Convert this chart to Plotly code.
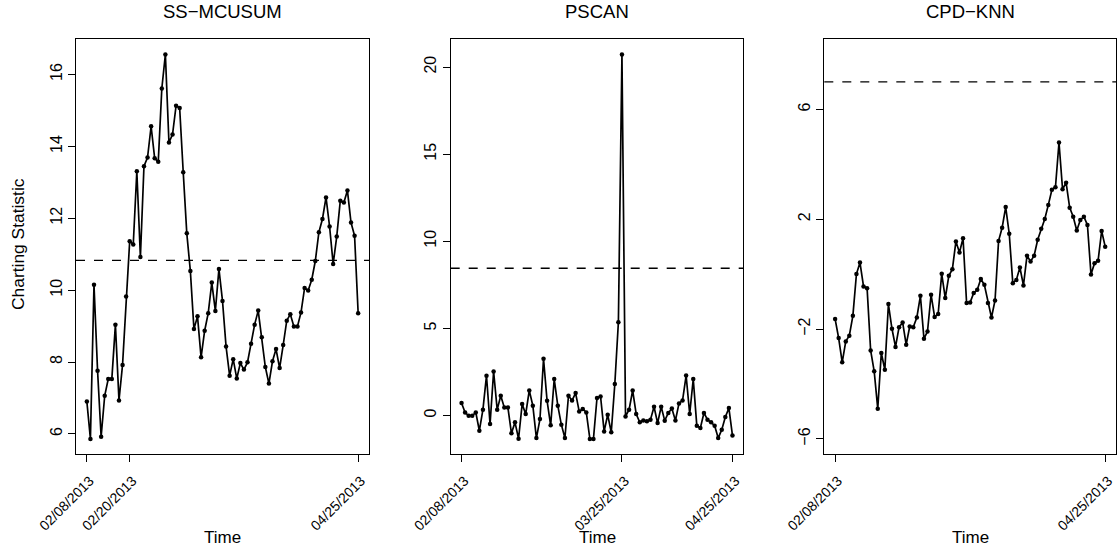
import pandas as pd
import plotly.graph_objects as go

start_date = "2013-02-08"
n_days = 77

ss_mcusum = [6.90, 5.86, 10.15, 7.76, 5.92, 7.06, 7.53, 7.53, 9.04, 6.93,
             7.92, 9.82, 11.36, 11.27, 13.31, 10.92, 13.45, 13.69, 14.56, 13.67,
             13.57, 15.61, 16.56, 14.11, 14.33, 15.13, 15.07, 13.28, 11.58, 10.53,
             8.92, 9.27, 8.13, 8.87, 9.36, 10.21, 9.42, 10.59, 9.70, 8.43,
             7.62, 8.08, 7.54, 7.97, 7.79, 7.99, 8.51, 9.04, 9.43, 8.69,
             7.86, 7.40, 8.02, 8.36, 7.83, 8.47, 9.15, 9.33, 8.99, 8.99,
             9.38, 10.06, 9.99, 10.29, 10.81, 11.61, 11.98, 12.58, 11.77, 10.73,
             11.49, 12.49, 12.44, 12.77, 11.88, 11.51, 9.36]

pscan = [0.71, 0.17, -0.02, -0.02, 0.17, -0.88, 0.33, 2.28, -0.49, 2.52,
         0.33, 1.13, 0.46, 0.46, -1.03, -0.40, -1.34, 0.65, 0.08, 1.43,
         0.56, -1.30, -0.21, 3.25, 0.84, -0.57, 2.09, 0.56, -0.53, -1.30,
         1.13, 0.86, 1.28, 0.23, 0.37, 0.17, -1.35, -1.35, 1.00, 1.09,
         -0.92, 0.04, -0.97, 1.80, 5.35, 20.73, -0.06, 0.33, 1.43, 0.08,
         -0.40, -0.29, -0.34, -0.25, 0.50, -0.44, 0.50, -0.30, 0.14, 0.40,
         -0.29, 0.69, 0.86, 2.29, 0.08, 2.09, -0.59, -0.72, 0.14, -0.25,
         -0.40, -0.59, -1.30, -0.82, -0.09, 0.42, -1.15]

cpd_knn = [-1.63, -2.33, -3.21, -2.45, -2.24, -1.52, 0.00, 0.42, -0.45, -0.51,
           -2.78, -3.54, -4.90, -2.87, -3.48, -1.09, -1.99, -2.65, -1.93, -1.76,
           -2.57, -1.91, -1.93, -1.58, -0.79, -2.35, -2.09, -0.75, -1.56, -1.45,
           0.01, -0.87, -0.06, 0.18, 1.19, 0.79, 1.31, -1.05, -1.03, -0.69,
           -0.57, -0.18, -0.39, -1.05, -1.58, -0.96, 1.21, 1.69, 2.44, 1.47,
           -0.33, -0.21, 0.24, -0.41, 0.67, 0.46, 0.67, 1.25, 1.65, 2.01,
           2.52, 3.07, 3.16, 4.79, 3.09, 3.33, 2.42, 2.09, 1.59, 1.97,
           2.09, 1.79, -0.01, 0.40, 0.49, 1.57, 1.00]

titles = ["SS\u2212MCUSUM", "PSCAN", "CPD\u2212KNN"]
thresholds = [10.83, 8.45, 7.0]
ylims = [None, None, (-6, 8)]
ytick_vals = [[6, 8, 10, 12, 14, 16], [0, 5, 10, 15, 20], [-6, -2, 2, 6]]
xtick_dates = [["2013-02-08", "2013-02-20", "2013-04-25"],
               ["2013-02-08", "2013-03-25", "2013-04-25"],
               ["2013-02-08", "2013-04-25"]]

dates = pd.date_range(start_date, periods=n_days, freq="D")
series = [ss_mcusum, pscan, cpd_knn]

W, H = 1119, 550
xdoms = [(76, 369), (450.7, 743.3), (824.3, 1116)]
ytop, ybot = 39, 454.3
font_family = "Liberation Sans, Arial, sans-serif"

fig = go.Figure()
span = (dates[-1] - dates[0])
xpad = span * 0.04
xrange = [dates[0] - xpad, dates[-1] + xpad]

for i, (vals, title, thr) in enumerate(zip(series, titles, thresholds)):
    k = "" if i == 0 else str(i + 1)
    fig.add_trace(go.Scatter(
        x=dates, y=vals, mode="lines+markers",
        line=dict(color="black", width=1.7),
        marker=dict(color="black", size=4.5),
        xaxis="x" + k, yaxis="y" + k, showlegend=False))
    if ylims[i] is None:
        lo = min(min(vals), thr)
        hi = max(max(vals), thr)
    else:
        lo, hi = ylims[i]
    pad = (hi - lo) * 0.04
    xd = [xdoms[i][0] / W, xdoms[i][1] / W]
    yd = [1 - ybot / H, 1 - ytop / H]
    axis_common = dict(showline=True, mirror=True, linecolor="black", linewidth=1,
                       ticks="outside", ticklen=7, tickcolor="black", tickwidth=1,
                       showgrid=False, zeroline=False, automargin=False)
    fig.update_layout(**{
        "xaxis" + k: dict(domain=xd, anchor="y" + k, type="date", range=xrange,
                          tickvals=xtick_dates[i],
                          ticktext=[pd.Timestamp(d).strftime("%m/%d/%Y") for d in xtick_dates[i]],
                          tickangle=-45, ticklabelstandoff=5, ticklabelshift=3,
                          tickfont=dict(family=font_family, size=14, color="black"),
                          **axis_common),
        "yaxis" + k: dict(domain=yd, anchor="x" + k, range=[lo - pad, hi + pad],
                          tickvals=ytick_vals[i], tickangle=-90,
                          tickfont=dict(family=font_family, size=16, color="black"),
                          **axis_common),
    })
    fig.add_shape(type="line", xref="x" + k + " domain", yref="y" + k,
                  x0=0, x1=1, y0=thr, y1=thr,
                  line=dict(color="black", width=1.3, dash="dash"))
    xc = (xdoms[i][0] + xdoms[i][1]) / 2 / W
    fig.add_annotation(text=title, xref="paper", yref="paper", x=xc, y=1 - 11 / H,
                       showarrow=False, xanchor="center", yanchor="middle",
                       font=dict(family=font_family, size=18.5, color="black"))
    fig.add_annotation(text="Time", xref="paper", yref="paper", x=xc, y=1 - 537 / H,
                       showarrow=False, xanchor="center", yanchor="middle",
                       font=dict(family=font_family, size=17, color="black"))

fig.add_annotation(text="Charting Statistic", xref="paper", yref="paper",
                   x=18 / W, y=1 - 244 / H, textangle=-90, showarrow=False,
                   xanchor="center", yanchor="middle",
                   font=dict(family=font_family, size=17.4, color="black"))

fig.update_layout(width=W, height=H, margin=dict(l=0, r=0, t=0, b=0),
                  paper_bgcolor="white", plot_bgcolor="white")
fig.write_html("out.html")
